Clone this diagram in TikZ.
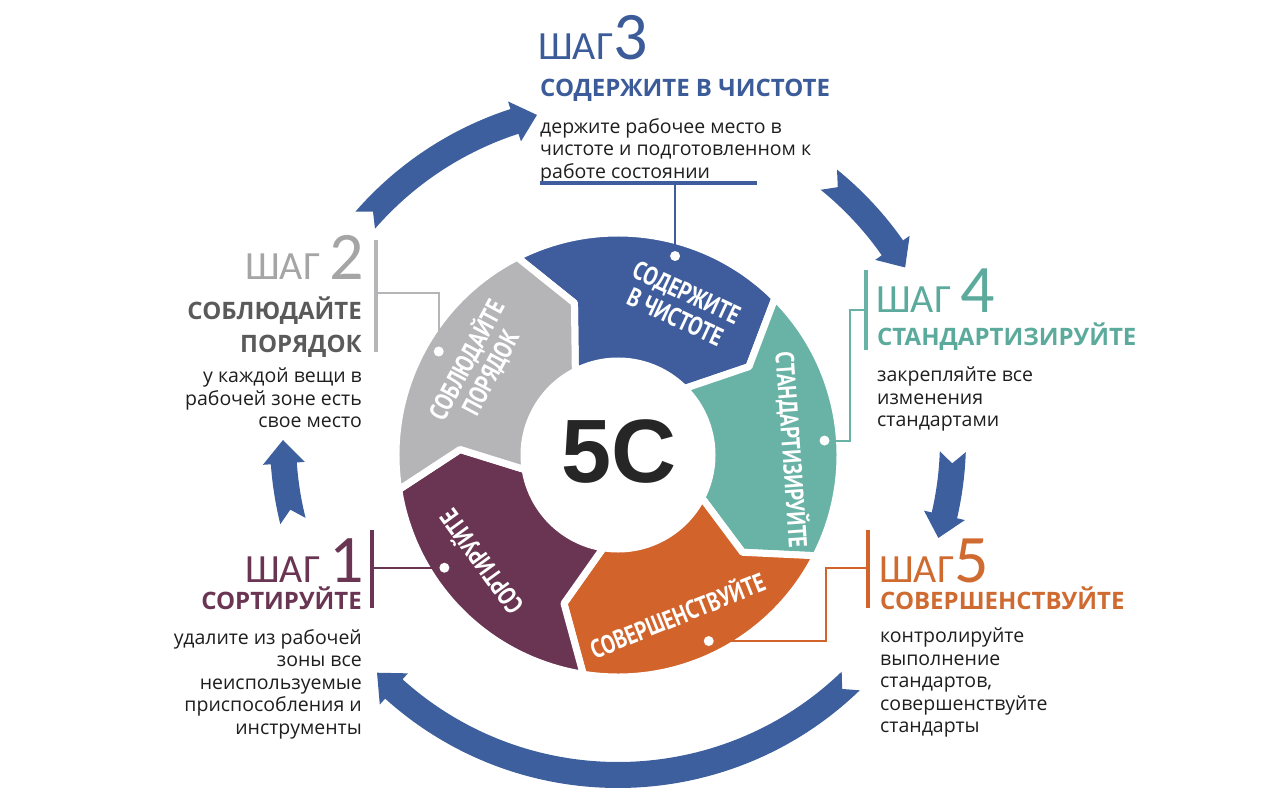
\documentclass[tikz,border=0pt]{standalone}
\usepackage{fontspec}
\setmainfont{Open Sans}
\newfontfamily\shagfont{Carlito}
\newfontfamily\segfont[FakeStretch=0.8]{PT Sans}
\newfontfamily\corefont{Liberation Sans}
\usetikzlibrary{positioning}
\definecolor{sblue}{HTML}{3F5D9C}
\definecolor{steal}{HTML}{69B3A6}
\definecolor{sorange}{HTML}{D2632B}
\definecolor{spurple}{HTML}{6A3552}
\definecolor{sgray}{HTML}{B5B5B7}
\definecolor{arrblue}{HTML}{3E5F9E}
\definecolor{tblue}{HTML}{3B5B99}
\definecolor{tteal}{HTML}{5BAA9C}
\definecolor{torange}{HTML}{CF6A30}
\definecolor{tgray}{HTML}{A5A5A5}
\definecolor{tdgray}{HTML}{5A5A5A}
\definecolor{tbody}{HTML}{1E1E1E}

% curved block arrow on the outer ring: tail angle, tip angle
\newcommand{\ringarrow}[2]{%
  \pgfmathsetmacro\hb{#2+4}%
  \pgfmathsetmacro\nt{#1-2}%
  \fill[arrblue] (#1:348) arc[start angle=#1, end angle=\hb, radius=348]
    -- (\hb:356) -- (#2:335) -- (\hb:314)
    -- (\hb:322) arc[start angle=\hb, end angle=#1, radius=322]
    -- (\nt:335) -- cycle;}

\begin{document}
\begin{tikzpicture}[x=1pt, y=-1pt,
    seg/.style={draw=white, line width=7pt, line join=round},
    seglabel/.style={font=\segfont\bfseries\fontsize{26}{27}\selectfont, text=white, align=center, inner sep=0},
    dot/.style={circle, fill=white, minimum size=10pt, inner sep=0},
    shag/.style={inner sep=0, font=\shagfont\fontsize{40}{40}\selectfont},
    head/.style={inner sep=0, font=\bfseries\fontsize{24}{33}\selectfont},
    body/.style={inner sep=0, font=\fontsize{19.5}{22.5}\selectfont, text=tbody},
    leader/.style={line width=2pt},
    bar/.style={line width=4pt}]
  \useasboundingbox (0,0) rectangle (1280,799);
  \newcommand{\num}[1]{{\fontsize{68}{68}\selectfont #1}}

  % outer cycle arrows
  \begin{scope}[shift={(618,440)}, y=1pt]
    \ringarrow{194}{180}
    \ringarrow{139}{104}
    \ringarrow{51}{31}
    \ringarrow{-2}{-17}
    \ringarrow{-46}{-136}
  \end{scope}

  % ring of five segments
  \begin{scope}[shift={(618,455)}, y=1pt]
    \foreach \a/\col in {117/sblue, 45/steal, -27/sorange, -99/spurple, 189/sgray}{
      \pgfmathsetmacro\b{\a-72}
      \pgfmathsetmacro\bt{\b-11}
      \pgfmathsetmacro\at{\a-11}
      \filldraw[seg, fill=\col] (\a:222) arc[start angle=\a, end angle=\b, radius=222]
        -- (\bt:158) -- (\b:94) arc[start angle=\b, end angle=\a, radius=94]
        -- (\at:158) -- cycle;
    }
    \coordinate (d1) at (213:207);
    \coordinate (d2) at (150:207);
    \coordinate (d3) at (74:207);
    \coordinate (d4) at (4:207);
    \coordinate (d5) at (-64:207);
  \end{scope}

  \node[font=\corefont\bfseries\fontsize{90}{90}\selectfont, text=black!85] (core) at (619,452) {5С};

  \node[seglabel, rotate=-25] (lab3) at (681,305) {СОДЕРЖИТЕ\\В ЧИСТОТЕ};
  \node[seglabel, rotate=62] (lab2) at (478,366) {СОБЛЮДАЙТЕ\\ПОРЯДОК};
  \node[seglabel, rotate=-86] (lab4) at (792,450) {СТАНДАРТИЗИРУЙТЕ};
  \node[seglabel, rotate=22] (lab5) at (677,614) {СОВЕРШЕНСТВУЙТЕ};
  \node[seglabel, rotate=126] (lab1) at (480,563) {СОРТИРУЙТЕ};

  % step 3
  \node[shag, text=tblue, anchor=base west] (shag3) at (538,60) {ШАГ\num{3}};
  \node[head, text=tblue, anchor=base west] (head3) at (540,97) {СОДЕРЖИТЕ В ЧИСТОТЕ};
  \node[body, anchor=north west, align=left] (txt3) at (540,118) {держите рабочее место в\\чистоте и подготовленном к\\работе состоянии};
  \coordinate (ul3) at (540,183);
  \draw[bar, sblue] (ul3) -- ++(217,0);
  \draw[leader, sblue] (d3) -- (d3 |- ul3);

  % step 2
  \node[shag, text=tgray, anchor=base east] (shag2) at (364,280) {ШАГ \num{2}};
  \node[head, text=tdgray, anchor=north east, align=right] (head2) at (362,297) {СОБЛЮДАЙТЕ\\ПОРЯДОК};
  \node[body, anchor=north east, align=right] (txt2) at (362,368) {у каждой вещи в\\рабочей зоне есть\\свое место};
  \draw[bar, sgray] (376,240) -- (376,352);
  \coordinate (b2) at (376,293);
  \draw[leader, sgray] (b2) -| (d2);

  % step 1
  \node[shag, text=spurple, anchor=base east] (shag1) at (364,582) {ШАГ \num{1}};
  \node[head, text=spurple, anchor=base east] (head1) at (362,609) {СОРТИРУЙТЕ};
  \node[body, anchor=north east, align=right] (txt1) at (362,629) {удалите из рабочей\\зоны все\\неиспользуемые\\приспособления и\\инструменты};
  \draw[bar, spurple] (372,530) -- (372,608);
  \coordinate (b1) at (372,568);
  \draw[leader, spurple] (b1) -- (b1 -| d1);

  % step 4
  \node[shag, text=tteal, anchor=base west] (shag4) at (876,313) {ШАГ \num{4}};
  \node[head, text=tteal, anchor=base west] (head4) at (877,346) {СТАНДАРТИЗИРУЙТЕ};
  \node[body, anchor=north west, align=left] (txt4) at (877,367) {закрепляйте все\\изменения\\стандартами};
  \draw[bar, steal] (866,270) -- (866,350);
  \coordinate (b4) at (866,310);
  \draw[leader, steal] (b4) -- ++(-16,0) |- (d4);

  % step 5
  \node[shag, text=torange, anchor=base west] (shag5) at (879,582) {ШАГ\num{5}};
  \node[head, text=torange, anchor=base west] (head5) at (880,609) {СОВЕРШЕНСТВУЙТЕ};
  \node[body, anchor=north west, align=left] (txt5) at (880,628) {контролируйте\\выполнение\\стандартов,\\совершенствуйте\\стандарты};
  \draw[bar, sorange] (868,530) -- (868,608);
  \coordinate (b5) at (868,568);
  \draw[leader, sorange] (b5) -- ++(-42,0) |- (d5);

  \foreach \i in {1,...,5}
    \node[dot] (dot\i) at (d\i) {};
\end{tikzpicture}
\end{document}
